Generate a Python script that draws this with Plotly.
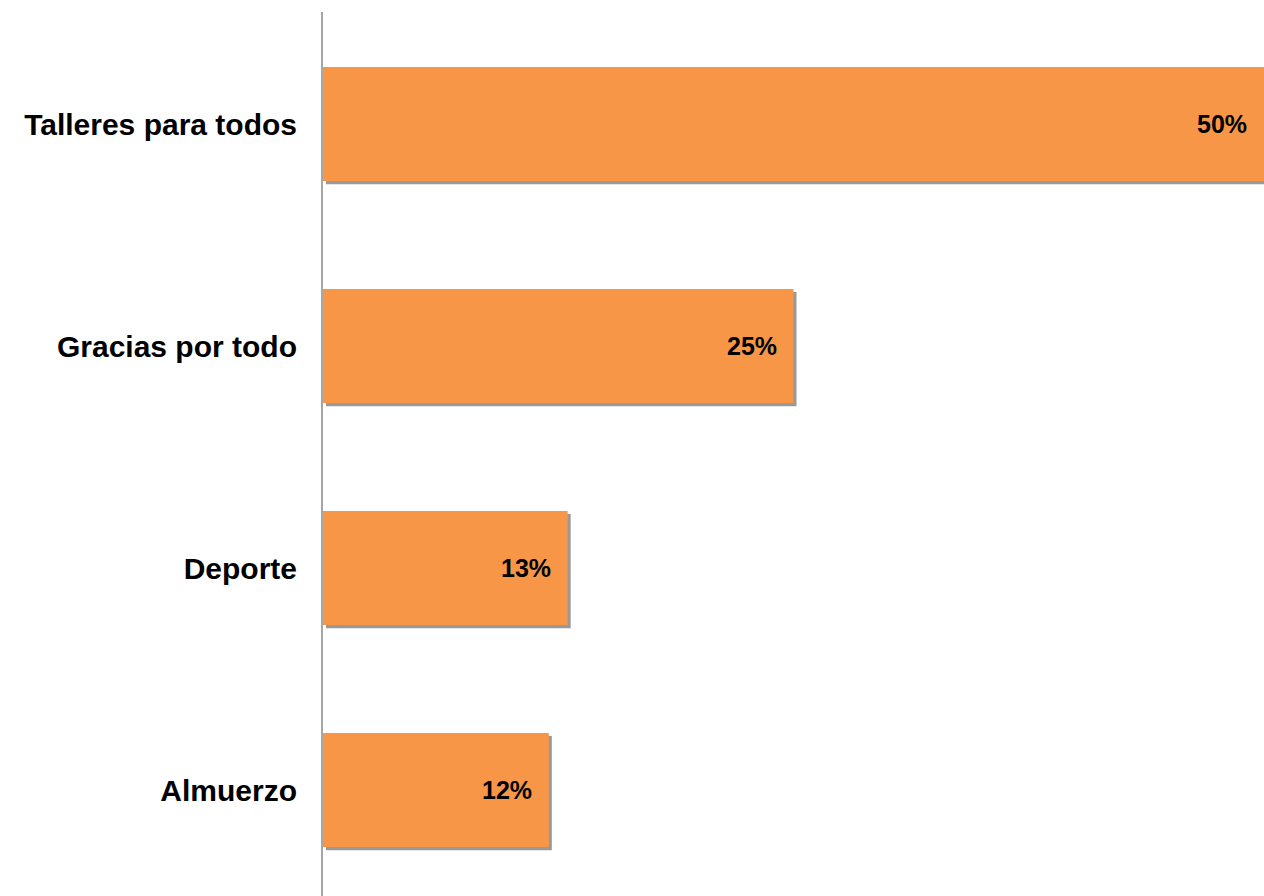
import plotly.graph_objects as go

# categories bottom -> top (plotly draws first category at the bottom)
categories = ["Almuerzo", "Deporte", "Gracias por todo", "Talleres para todos"]
percentages = [12, 13, 25, 50]
value_labels = ["12%", "13%", "25%", "50%"]

bar_color = "#F79646"
font_family = "Liberation Sans, Arial, sans-serif"
bar_width = 0.514

fig = go.Figure()

# soft drop shadow under each bar
fig.add_trace(go.Bar(
    x=percentages, y=categories, orientation="h",
    base=0.16, width=bar_width, offset=-bar_width / 2 - 0.014,
    marker=dict(color="rgba(0,0,0,0.4)", line=dict(width=0)),
    hoverinfo="skip", showlegend=False,
))

fig.add_trace(go.Bar(
    x=percentages, y=categories, orientation="h",
    width=bar_width,
    marker=dict(color=bar_color, line=dict(width=0)),
    showlegend=False,
))

# value labels just inside the bar ends
for cat, val, lab in zip(categories, percentages, value_labels):
    fig.add_annotation(
        x=val, y=cat, text=lab, showarrow=False,
        xanchor="right", xshift=-15,
        font=dict(family=font_family, size=25, color="#000000", weight="bold"),
    )

fig.update_layout(
    width=1264, height=896,
    margin=dict(l=323, r=0, t=12, b=0),
    barmode="overlay",
    paper_bgcolor="white", plot_bgcolor="white",
    font=dict(family=font_family),
)
fig.update_xaxes(range=[0, 50], visible=False, showgrid=False, zeroline=False)
fig.update_yaxes(
    type="category", categoryorder="array", categoryarray=categories,
    range=[-0.4775, 3.5045],
    showline=True, linecolor="#A6A6A6", linewidth=2,
    showgrid=False, zeroline=False, ticks="",
    ticklabelstandoff=18,
    tickfont=dict(family=font_family, size=30, color="#000000", weight="bold"),
)

fig.write_html("out.html", config={"displayModeBar": False},
               post_script="document.body.style.margin='0';")
